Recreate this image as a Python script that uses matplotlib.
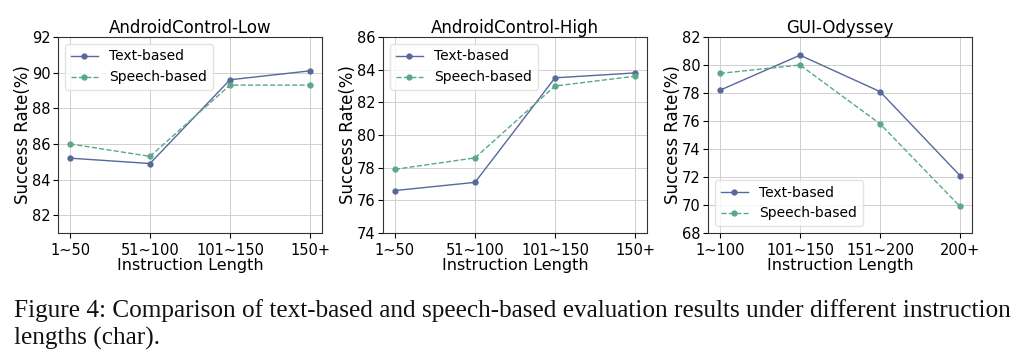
import matplotlib.pyplot as plt

titles = ['AndroidControl-Low', 'AndroidControl-High', 'GUI-Odyssey']
tick_labels = [
    ['1~50', '51~100', '101~150', '150+'],
    ['1~50', '51~100', '101~150', '150+'],
    ['1~100', '101~150', '151~200', '200+'],
]
text_based = [
    [85.2, 84.9, 89.6, 90.1],
    [76.6, 77.1, 83.5, 83.8],
    [78.2, 80.7, 78.1, 72.1],
]
speech_based = [
    [86.0, 85.3, 89.3, 89.3],
    [77.9, 78.6, 83.0, 83.6],
    [79.4, 80.0, 75.8, 69.9],
]
y_limits = [(81, 92), (74, 86), (68, 82)]
y_ticks = [range(82, 93, 2), range(74, 87, 2), range(68, 83, 2)]
legend_loc = ['upper left', 'upper left', 'lower left']

caption = ("Figure 4: Comparison of text-based and speech-based evaluation results under different instruction\n"
           "lengths (char).")

text_color = '#56699a'
speech_color = '#5aa88a'

fig = plt.figure(figsize=(10.24, 3.6), dpi=100)
lefts = [58, 383, 708]
for i in range(3):
    ax = fig.add_axes([lefts[i] / 1024, 1 - 233 / 360, 264 / 1024, 196 / 360])
    x = range(len(tick_labels[i]))
    ax.plot(x, text_based[i], marker='o', markersize=3.5, linewidth=1.0,
            color=text_color, label='Text-based')
    ax.plot(x, speech_based[i], marker='o', markersize=3.5, linewidth=1.0,
            linestyle='--', color=speech_color, label='Speech-based')
    ax.set_xticks(list(x))
    ax.set_xticklabels(tick_labels[i], fontsize=10.5)
    ax.set_ylim(*y_limits[i])
    ax.set_yticks(list(y_ticks[i]))
    ax.tick_params(axis='y', labelsize=10.5, pad=2)
    ax.set_title(titles[i], fontsize=12, pad=3)
    ax.set_xlabel('Instruction Length', fontsize=11.5, labelpad=0)
    ax.set_ylabel('Success Rate(%)', fontsize=12, labelpad=0)
    ax.grid(True, color='#d0d0d0', linewidth=0.7)
    ax.set_axisbelow(True)
    for s in ax.spines.values():
        s.set_color('#333333')
        s.set_linewidth(0.8)
    ax.legend(loc=legend_loc[i], fontsize=10, handlelength=2.0, framealpha=0.8,
              edgecolor='#dddddd')

fig.text(14 / 1024, 1 - 299 / 360, caption, fontsize=18.2, family='Liberation Serif',
         va='top', ha='left', linespacing=1.3, color='#111111')

fig.savefig('out.png', dpi=100)
